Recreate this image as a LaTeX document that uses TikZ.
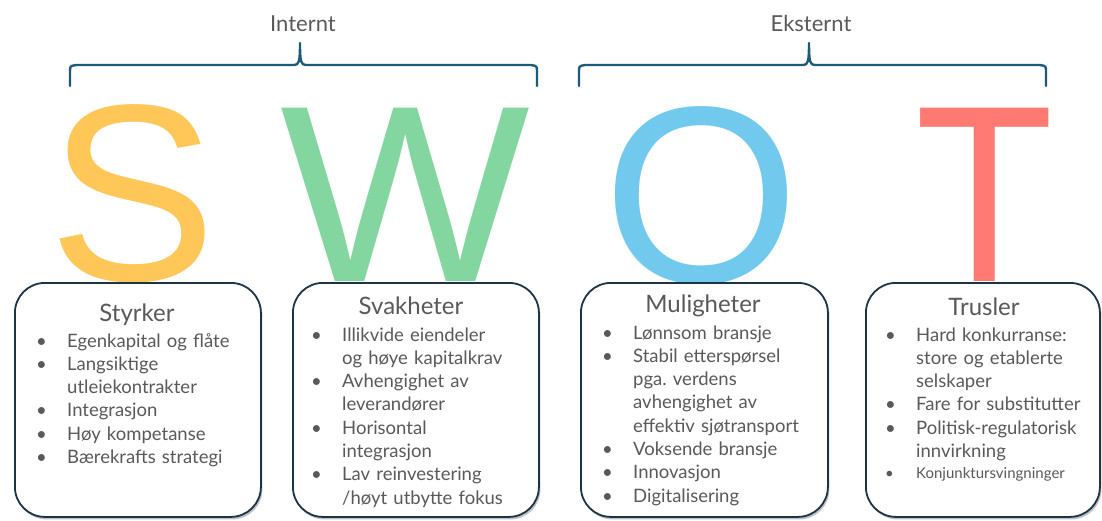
\documentclass[tikz,border=0pt]{standalone}
\usepackage{fontspec}
\usepackage{graphicx}
\setmainfont{Lato}
\newfontfamily\letterfont{Liberation Sans}
\usetikzlibrary{shadows}
\frenchspacing

\definecolor{sColor}{HTML}{FFC658}
\definecolor{wColor}{HTML}{83D69F}
\definecolor{oColor}{HTML}{72C9EE}
\definecolor{tColor}{HTML}{FF7A73}
\definecolor{braceColor}{HTML}{1C5A7C}
\definecolor{cardLine}{HTML}{1D3447}
\definecolor{txtGray}{HTML}{595959}

\newlength{\bhang}
\setlength{\bhang}{28pt}
% one bullet point with a hanging indent for its wrapped lines
\newcommand{\bitem}[1]{\noindent\hangindent=\bhang\hangafter=1
  \makebox[\bhang][l]{\hspace{-3pt}\textbullet}#1\par}

\begin{document}
\begin{tikzpicture}[x=1pt,y=-1pt,
  bigletter/.style={inner sep=0pt, anchor=base, text depth=0pt,
    font=\letterfont\fontsize{252}{252}\selectfont},
  card/.style={draw=cardLine, line width=1.8pt, fill=white,
    rounded corners=30pt, anchor=north west,
    drop shadow={shadow xshift=1.5pt, shadow yshift=-2.5pt,
      opacity=0.35, fill=black!70}},
  cardtitle/.style={inner sep=0pt, anchor=base, text=txtGray,
    font=\fontsize{24}{28}\selectfont},
  bullets/.style={inner sep=0pt, anchor=base west, text=txtGray,
    text width=215pt, font=\fontsize{18.5}{23.3}\selectfont},
  grouplabel/.style={inner sep=0pt, anchor=base, text=txtGray,
    font=\fontsize{22}{26}\selectfont},
  brace/.style={draw=braceColor, line width=2.4pt, line cap=round,
    line join=round}
]
\useasboundingbox (0,0) rectangle (1102,520);

% group labels and their braces
\node[grouplabel] (internt) at (303,31) {Internt};
\node[grouplabel] (eksternt) at (811,31) {Eksternt};

\draw[brace] (70,86) -- (70,72) .. controls (70,66) .. (76,65) -- (294,65)
  .. controls (299,65) and (300,62) .. (300,43)
  .. controls (300,62) and (301,65) .. (306,65) -- (531,65)
  .. controls (537,66) .. (537,72) -- (537,86);
\draw[brace] (579,86) -- (579,72) .. controls (579,66) .. (585,65) -- (803,65)
  .. controls (808,65) and (809,62) .. (809,43)
  .. controls (809,62) and (810,65) .. (815,65) -- (1040,65)
  .. controls (1046,66) .. (1046,72) -- (1046,86);

% the four large letters
\node[bigletter, text=sColor] (S) at (132.5,280) {S};
\node[bigletter, text=wColor] (W) at (405,281) {\scalebox{1.05}[1]{W}};
\node[bigletter, text=oColor] (O) at (701.5,282) {O};
\node[bigletter, text=tColor] (T) at (985,281) {\scalebox{0.9}[1]{T}};

% cards
\node[card, minimum width=246pt, minimum height=234pt] (styrker) at (14,282) {};
\node[card, minimum width=246pt, minimum height=234pt] (svakheter) at (292,282) {};
\node[card, minimum width=247pt, minimum height=234pt] (muligheter) at (580,282) {};
\node[card, minimum width=234pt, minimum height=234pt] (trusler) at (865,282) {};

% card titles
\node[cardtitle] (styrkerT) at (137,321) {Styrker};
\node[cardtitle] (svakheterT) at (411,314) {Svakheter};
\node[cardtitle] (mulighetT) at (703,312) {Muligheter};
\node[cardtitle] (truslerT) at (984,315) {Trusler};

% card contents
\node[bullets] (styrkerL) at (39,347) {%
  \bitem{Egenkapital og flåte}
  \bitem{Langsiktige\newline utleiekontrakter}
  \bitem{Integrasjon}
  \bitem{Høy kompetanse}
  \bitem{Bærekrafts strategi}};
\node[bullets] (svakheterL) at (314,341) {%
  \bitem{Illikvide eiendeler\newline og høye kapitalkrav}
  \bitem{Avhengighet av\newline leverandører}
  \bitem{Horisontal\newline integrasjon}
  \bitem{Lav reinvestering\newline /høyt utbytte fokus}};
\node[bullets] (mulighetL) at (605,339) {%
  \bitem{Lønnsom bransje}
  \bitem{Stabil etterspørsel\newline pga. verdens\newline avhengighet av\newline effektiv sjøtransport}
  \bitem{Voksende bransje}
  \bitem{Innovasjon}
  \bitem{Digitalisering}};
\node[bullets] (truslerL) at (888,341) {%
  \bitem{Hard konkurranse:\newline store og etablerte\newline selskaper}
  \bitem{Fare for substitutter}
  \bitem{Politisk-regulatorisk\newline innvirkning}
  \fontsize{15}{21}\selectfont
  \bitem{Konjunktursvingninger}};
\end{tikzpicture}
\end{document}
